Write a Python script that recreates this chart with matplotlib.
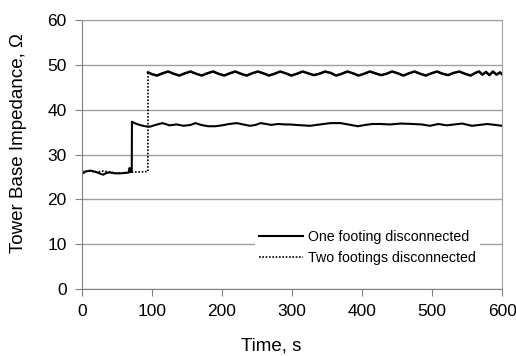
import matplotlib
matplotlib.use("Agg")
import matplotlib.pyplot as plt

plt.rcParams['font.family'] = ['Liberation Sans', 'DejaVu Sans']

# one footing disconnected
t_one = [0, 5, 12, 18, 25, 30, 35, 40, 47, 55, 62, 67, 68, 68.6, 71, 71.3, 75, 82, 90, 97, 105, 115, 125, 135,
         145, 155, 162, 170, 180, 190, 200, 210, 221, 230, 240, 248, 255, 263, 270, 280, 290, 297, 305, 315,
         326, 335, 345, 355, 369, 380, 394, 405, 415, 426, 440, 455, 473, 485, 497, 509, 521, 532, 543, 557,
         568, 579, 590, 600]
v_one = [25.7, 26.2, 26.4, 26.2, 25.8, 25.5, 25.9, 26.0, 25.8, 25.8, 25.9, 26.0, 27.0, 26.1, 26.1, 37.3, 37.0,
         36.6, 36.3, 36.2, 36.6, 37.0, 36.5, 36.7, 36.4, 36.6, 37.0, 36.6, 36.3, 36.3, 36.5, 36.8, 37.0, 36.7,
         36.4, 36.6, 37.0, 36.8, 36.6, 36.8, 36.7, 36.7, 36.6, 36.5, 36.4, 36.6, 36.8, 37.0, 37.0, 36.7, 36.3,
         36.6, 36.8, 36.8, 36.7, 36.9, 36.8, 36.7, 36.4, 36.8, 36.5, 36.7, 36.9, 36.4, 36.6, 36.8, 36.6, 36.4]

# two footings disconnected
t_two = [0, 10, 20, 30, 40, 50, 60, 70, 80, 94, 94.3, 100, 107, 115, 123, 131, 139, 147, 155, 163, 171, 179,
         187, 195, 203, 211, 219, 227, 235, 243, 251, 259, 267, 275, 283, 291, 299, 307, 315, 323, 331, 339,
         347, 355, 363, 371, 379, 387, 395, 403, 411, 419, 427, 435, 443, 451, 459, 467, 475, 483, 491, 499,
         507, 515, 523, 531, 539, 547, 555, 562, 567, 572, 577, 582, 587, 592, 597, 600]
v_two = [26.2, 26.3, 26.1, 26.3, 26.1, 25.8, 25.9, 26.1, 26.1, 26.2, 48.3, 47.9, 47.6, 48.1, 48.5, 48.0, 47.6,
         48.1, 48.5, 48.0, 47.6, 48.1, 48.5, 48.0, 47.6, 48.1, 48.5, 48.0, 47.6, 48.1, 48.5, 48.1, 47.6, 48.0,
         48.5, 48.1, 47.6, 48.0, 48.5, 48.1, 47.7, 48.0, 48.5, 48.2, 47.6, 48.0, 48.5, 48.1, 47.6, 48.0, 48.5,
         48.1, 47.7, 48.0, 48.5, 48.1, 47.6, 48.1, 48.5, 48.0, 47.6, 48.1, 48.5, 48.0, 47.7, 48.2, 48.5, 48.0,
         47.6, 48.2, 48.5, 47.8, 48.4, 47.7, 48.5, 47.8, 48.3, 47.9]
step_two = 10  # index where the two-footing curve jumps up

yticks = [0, 10, 20, 30, 40, 50, 60]
xticks = [0, 100, 200, 300, 400, 500, 600]

fig = plt.figure(figsize=(5.16, 3.56), dpi=100)
ax = fig.add_axes([0.159, 0.188, 0.814, 0.756])

ax.plot(t_one, v_one, color='black', lw=1.5, label='One footing disconnected')
ax.plot(t_two, v_two, color='black', lw=1.2, linestyle=(0, (1, 1)), label='Two footings disconnected')
# dense noisy trace makes the dotted series look solid after the jump
ax.plot(t_two[step_two:], v_two[step_two:], color='black', lw=1.8)

ax.set_xlim(0, 600)
ax.set_ylim(0, 60)
ax.set_xticks(xticks)
ax.set_yticks(yticks)
ax.grid(True, axis='y', color='#a0a0a0', lw=1)
ax.set_axisbelow(True)
for s in ['top', 'right']:
    ax.spines[s].set_color('#a0a0a0')
for s in ['left', 'bottom']:
    ax.spines[s].set_color('#808080')
ax.tick_params(direction='out', length=5, color='#808080', labelsize=12.5)
ax.tick_params(axis='y', pad=6)
ax.tick_params(axis='x', pad=5.5)

ax.set_xlabel('Time, s', fontsize=13.5)
ax.set_ylabel('Tower Base Impedance, \u03a9', fontsize=13.5)
ax.xaxis.set_label_coords(0.45, -0.18)
ax.yaxis.set_label_coords(-0.131, 0.541)

leg = ax.legend(loc='center left', bbox_to_anchor=(0.395, 0.155), frameon=True, fontsize=10.2,
                handlelength=3.1, handletextpad=0.35, labelspacing=0.45, borderpad=0.3)
leg.get_frame().set_edgecolor('none')
leg.get_frame().set_facecolor('white')
leg.get_frame().set_alpha(1)

fig.savefig('out.png', dpi=100)
